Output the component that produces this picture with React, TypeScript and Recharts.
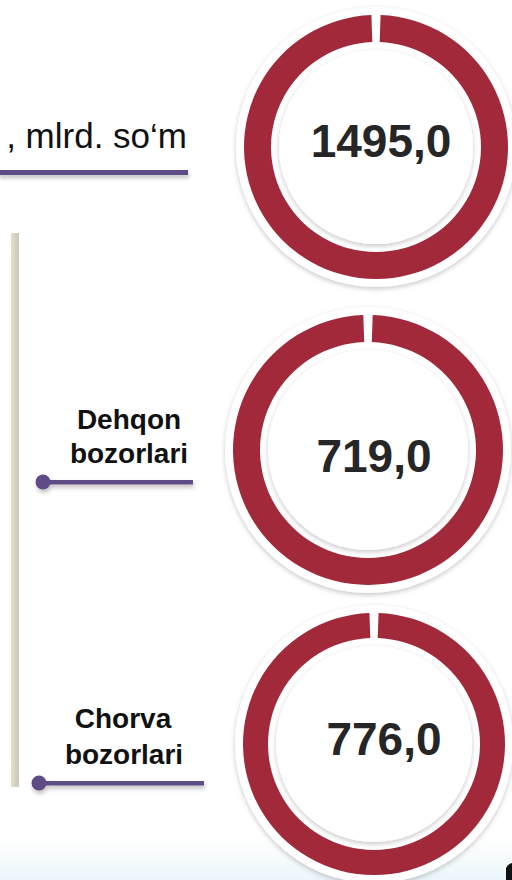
import React from "react";
import { PieChart, Pie, Cell } from "recharts";

const categories = ["Jami, mlrd. so‘m", "Dehqon bozorlari", "Chorva bozorlari"];
const titleText = ", mlrd. so‘m";
const values = [1495.0, 719.0, 776.0];

const RED = "#a2293a";
const PURPLE = "#5f4b85";
const FONT = "'Liberation Sans', Arial, sans-serif";

const rings = [
  { cx: 376, cy: 147, outer: 132, inner: 105, halo: 140, disc: 97, dx: 5, dy: 10 },
  { cx: 368, cy: 450, outer: 135, inner: 108, halo: 143, disc: 100, dx: 6, dy: 22 },
  { cx: 374, cy: 744, outer: 131, inner: 106, halo: 139, disc: 98, dx: 10, dy: 11 },
];

const fmt = (v: number) => v.toFixed(1).replace(".", ",");

export default function App() {
  const W = 512;
  const H = 880;
  return (
    <div style={{ position: "absolute", left: 0, top: 0, width: W, height: H, background: "#fff", overflow: "hidden" }}>
      <svg width={W} height={H} style={{ position: "absolute", left: 0, top: 0 }}>
        <defs>
          <linearGradient id="bottomGrad" x1="0" y1="0" x2="0" y2="1">
            <stop offset="0" stopColor="#ffffff" />
            <stop offset="1" stopColor="#eaf6fa" />
          </linearGradient>
          <linearGradient id="barGrad" x1="0" y1="0" x2="1" y2="0">
            <stop offset="0" stopColor="#e6dfcc" />
            <stop offset="0.6" stopColor="#d6cfba" />
            <stop offset="1" stopColor="#c9c6c0" />
          </linearGradient>
          <filter id="sh" x="-20%" y="-20%" width="140%" height="140%">
            <feDropShadow dx="0" dy="2" stdDeviation="2.5" floodColor="#000" floodOpacity="0.22" />
          </filter>
          <filter id="shLine" x="-10%" y="-200%" width="120%" height="500%">
            <feDropShadow dx="1" dy="3" stdDeviation="2" floodColor="#000" floodOpacity="0.25" />
          </filter>
        </defs>
        <rect x={0} y={840} width={W} height={40} fill="url(#bottomGrad)" />
        {rings.map((r, i) => (
          <g key={"h" + i}>
            <circle cx={r.cx} cy={r.cy} r={r.halo} fill="#fff" filter="url(#sh)" />
            <circle cx={r.cx} cy={r.cy} r={r.disc} fill="#fff" filter="url(#sh)" />
          </g>
        ))}
        <rect x={11} y={233} width={8} height={554} fill="url(#barGrad)" />
        <text x={187} y={148} textAnchor="end" fontFamily={FONT} fontSize={35} fill="#111">
          {titleText}
        </text>
        <rect x={-2} y={170} width={190} height={5} fill={PURPLE} filter="url(#shLine)" />
        <g fontFamily={FONT} fontWeight="bold" fontSize={28} fill="#111" textAnchor="middle">
          <text x={129} y={429}>{categories[1].split(" ")[0]}</text>
          <text x={129} y={463}>{categories[1].split(" ")[1]}</text>
          <text x={123} y={728}>{categories[2].split(" ")[0]}</text>
          <text x={124} y={764}>{categories[2].split(" ")[1]}</text>
        </g>
        <g filter="url(#shLine)">
          <rect x={43} y={480} width={150} height={4.5} fill={PURPLE} />
          <circle cx={43} cy={482} r={7.5} fill={PURPLE} />
          <rect x={39} y={781} width={165} height={4.5} fill={PURPLE} />
          <circle cx={39} cy={783} r={7.5} fill={PURPLE} />
        </g>
        <path d="M506 880 L506 868 Q508 864 512 863 L512 880 Z" fill="#111" />
      </svg>
      <PieChart width={W} height={H} margin={{ top: 0, right: 0, bottom: 0, left: 0 }} style={{ position: "absolute", left: 0, top: 0 }}>
        {rings.map((r, i) => (
          <Pie
            key={"p" + i}
            data={[{ name: categories[i], value: values[i] }]}
            dataKey="value"
            cx={r.cx}
            cy={r.cy}
            innerRadius={r.inner}
            outerRadius={r.outer}
            startAngle={88}
            endAngle={-268}
            stroke="none"
            isAnimationActive={false}
            labelLine={false}
            label={(p: any) => (
              <text
                x={p.cx + r.dx}
                y={p.cy + r.dy}
                textAnchor="middle"
                fontFamily={FONT}
                fontWeight="bold"
                fontSize={46}
                fill="#262626"
              >
                {fmt(p.value)}
              </text>
            )}
          >
            <Cell fill={RED} />
          </Pie>
        ))}
      </PieChart>
    </div>
  );
}
